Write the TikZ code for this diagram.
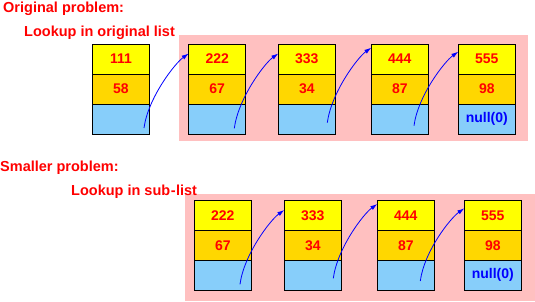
\documentclass[tikz,border=0pt]{standalone}
\usepackage{fontspec}
\setmainfont{Liberation Sans}
\usetikzlibrary{arrows.meta,calc}
\definecolor{cyel}{RGB}{255,255,0}
\definecolor{cgold}{RGB}{255,215,0}
\definecolor{cblue}{RGB}{135,206,250}
\definecolor{cpink}{RGB}{255,192,192}
\begin{document}
\begin{tikzpicture}[x=1pt,y=-1pt,
  cellbox/.style={draw=black,line width=1pt,minimum width=57pt,minimum height=30pt,inner sep=0pt,outer sep=0pt,
    font=\fontsize{14}{16}\selectfont\bfseries,text=red},
  ylw/.style={cellbox,fill=cyel},
  gld/.style={cellbox,fill=cgold},
  lbc/.style={cellbox,fill=cblue,text=blue},
  ptr/.style={blue,line width=0.8pt,-{Latex[length=7pt,width=4.5pt]}},
  lbl/.style={anchor=base west,inner sep=0pt,text=red,font=\fontsize{14.5}{16}\selectfont\bfseries},
  bg/.style={fill=cpink,draw=none}]
\useasboundingbox (0,0) rectangle (535,301);
% backgrounds
\fill[bg] (179,35) rectangle (528,141);
\fill[bg] (185,194) rectangle (535,301);
% labels
\node[lbl] (t1) at (3,12.5) {Original problem:};
\node[lbl] (t2) at (24,36) {Lookup in original list};
\node[lbl] (t3) at (0,171) {Smaller problem:};
\node[lbl] (t4) at (71,195) {Lookup in sub{\kern0.5pt}-{\kern0.5pt}list};
% top row
\node[ylw] (a1) at (121,59) {111};
\node[gld] (a2) at (121,89) {58};
\node[lbc] (a3) at (121,119) {};
\node[ylw] (b1) at (217.2,59) {222};
\node[gld] (b2) at (217.2,89) {67};
\node[lbc] (b3) at (217.2,119) {};
\node[ylw] (c1) at (306.8,59) {333};
\node[gld] (c2) at (306.8,89) {34};
\node[lbc] (c3) at (306.8,119) {};
\node[ylw] (d1) at (399.8,59) {444};
\node[gld] (d2) at (399.8,89) {87};
\node[lbc] (d3) at (399.8,119) {};
\node[ylw] (e1) at (486.8,59) {555};
\node[gld] (e2) at (486.8,89) {98};
\node[lbc] (e3) at (486.8,119) {null(0)};
% bottom row
\node[ylw] (f1) at (222.8,215.3) {222};
\node[gld] (f2) at (222.8,245.3) {67};
\node[lbc] (f3) at (222.8,275.3) {};
\node[ylw] (g1) at (312.8,215.3) {333};
\node[gld] (g2) at (312.8,245.3) {34};
\node[lbc] (g3) at (312.8,275.3) {};
\node[ylw] (h1) at (405.8,215.3) {444};
\node[gld] (h2) at (405.8,245.3) {87};
\node[lbc] (h3) at (405.8,275.3) {};
\node[ylw] (k1) at (492.8,215.3) {555};
\node[gld] (k2) at (492.8,245.3) {98};
\node[lbc] (k3) at (492.8,275.3) {null(0)};
% pointer coordinates
\coordinate (sa) at (144,128);   \coordinate (eb) at (188.7,53.5);
\coordinate (sb) at (234.3,128.3); \coordinate (ec) at (278.3,53.5);
\coordinate (sc) at (327.3,122.7); \coordinate (ed) at (371.3,47.7);
\coordinate (sd) at (414,125.7);   \coordinate (ee) at (458.3,51.7);
\coordinate (sf) at (240,284.3);   \coordinate (eg) at (284.3,210);
\coordinate (sg) at (333.3,278.3); \coordinate (eh) at (377.3,204);
\coordinate (sh) at (420.3,281);   \coordinate (ek) at (464.3,208.3);
\foreach \s/\e in {sa/eb,sb/ec,sc/ed,sd/ee,sf/eg,sg/eh,sh/ek}
  \draw[ptr] (\s) .. controls ($(\s)+(4,-30)$) and ($(\e)+(-14,10)$) .. (\e);
\end{tikzpicture}
\end{document}
